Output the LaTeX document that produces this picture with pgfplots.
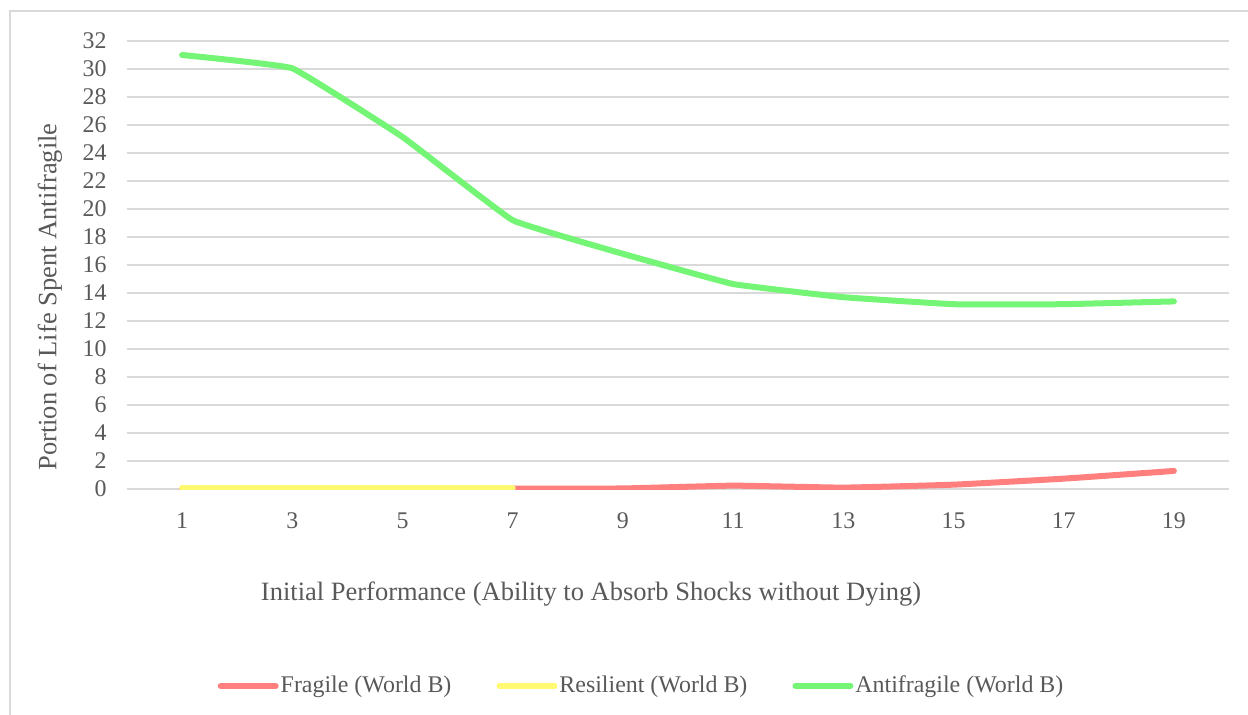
\documentclass[border=0pt]{standalone}
\usepackage{fontspec}
\setmainfont{Liberation Serif}
\usepackage{pgfplots}
\pgfplotsset{compat=1.18}

\definecolor{txtgray}{HTML}{595959}
\definecolor{gridgray}{HTML}{D9D9D9}
\definecolor{fragile}{HTML}{FF7F7F}
\definecolor{resilient}{HTML}{FFFA72}
\definecolor{antifragile}{HTML}{75F575}

\begin{document}
\begin{tikzpicture}
\begin{axis}[
  scale only axis,
  width=551bp, height=224bp,
  xmin=-0.5, xmax=9.5,
  ymin=0, ymax=32,
  xtick={0,...,9},
  xticklabels={1,3,5,7,9,11,13,15,17,19},
  ytick={0,2,...,32},
  axis line style={draw=none},
  tick style={draw=none},
  ymajorgrids,
  grid style={gridgray, line width=1bp},
  /pgf/number format/assume math mode=true,
  ticklabel style={font=\fontsize{12}{14}\selectfont, text=txtgray},
  xticklabel style={anchor=base, yshift=-19.5bp},
  yticklabel style={anchor=east, inner sep=0pt, xshift=-10bp},
  xlabel={Initial Performance (Ability to Absorb Shocks without Dying)},
  ylabel={Portion of Life Spent Antifragile},
  every axis x label/.style={at={(axis description cs:0.4211,-0.2344)}, anchor=center,
    font=\fontsize{13.3}{15}\selectfont, text=txtgray},
  every axis y label/.style={at={(axis description cs:-0.06987,0.4286)}, anchor=center, rotate=90,
    font=\fontsize{13.3}{15}\selectfont, text=txtgray},
  legend columns=3,
  legend style={at={(axis description cs:0.4669,-0.4397)}, anchor=center, draw=none, fill=none,
    font=\fontsize{12}{14}\selectfont, text=txtgray,
    /tikz/every even column/.append style={column sep=21.5bp},
    nodes={inner sep=1bp}},
  legend image code/.code={\draw[#1, line width=3bp, line cap=round] (0bp,0bp) -- (27.5bp,0bp);},
  every axis plot/.append style={line width=3bp, line cap=round, line join=round},
]
\addplot[fragile, smooth, tension=0.2] coordinates {
  (0,0.0) (1,0.0) (2,0.0) (3,0.02) (4,0.04) (5,0.24) (6,0.1) (7,0.31) (8,0.74) (9,1.29)};
\addlegendentry{Fragile (World B)}
\addplot[resilient] coordinates {
  (0,0.04) (1,0.04) (2,0.04) (3,0.04)};
\addlegendentry{Resilient (World B)}
\addplot[antifragile, smooth, tension=0.15] coordinates {
  (0,31.0) (1,30.05) (2,25.15) (3,19.2) (4,16.8) (5,14.64) (6,13.7) (7,13.2) (8,13.2) (9,13.4)};
\addlegendentry{Antifragile (World B)}
\end{axis}
% chart frame
\draw[gridgray, line width=0.8bp] (-58.5bp,-140bp) -- (-58.5bp,239bp) -- (600bp,239bp);
\pgfresetboundingbox
\useasboundingbox (-63.5bp,-113bp) rectangle (560.5bp,244.5bp);
\end{tikzpicture}
\end{document}
